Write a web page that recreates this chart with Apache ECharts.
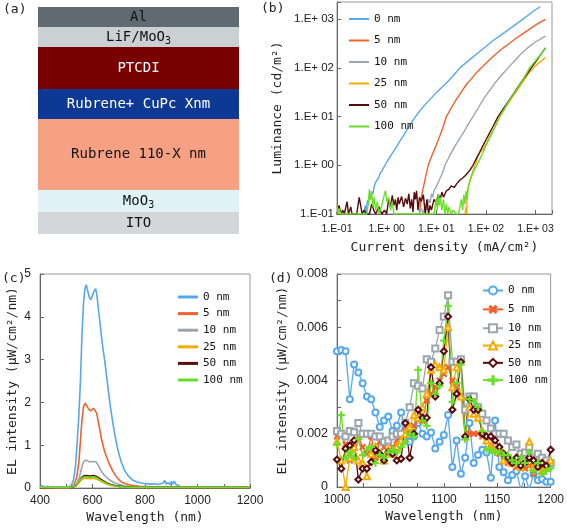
<!DOCTYPE html>
<html><head><meta charset="utf-8">
<script src="https://cdn.jsdelivr.net/npm/echarts@6/dist/echarts.min.js"></script>
<style>html,body{margin:0;padding:0;background:#fff}#c{width:567px;height:529px}</style>
</head><body><div id="c"></div>
<script>
// ---------- (a) device stack ----------
const layerNames = ['Al', 'LiF/MoO3', 'PTCDI', 'Rubrene+ CuPc Xnm', 'Rubrene 110-X nm', 'MoO3', 'ITO'];
const layerThickness = [20, 20, 42, 30, 71, 22, 22];

// ---------- legend names ----------
const thicknessNames = ['0 nm', '5 nm', '10 nm', '25 nm', '50 nm', '100 nm'];

// ---------- (b) luminance vs current density ----------
const lum0 = [[0.35,0.1],[0.37,0.15],[0.39,0.11],[0.41,0.19],[0.43,0.15],[0.45,0.24],[0.47,0.2],[0.5,0.29],[0.53,0.26],[0.56,0.36],[0.6,0.45],[0.63,0.41],[0.66,0.52],[0.7,0.58],[0.74,0.68],[0.78,0.63],[0.82,0.8],[0.86,0.76],[0.9,0.95],[0.95,1.05],[1.0,1.12],[1.1,1.35],[1.25,1.65],[1.5,2.2],[1.8,3.0],[2.2,4.1],[2.7,5.8],[3.2,7.6],[3.7,9.5],[4.5,12.5],[5.5,16],[7,21],[8.5,26],[10,31],[13,40],[16,49],[20,62],[25,80],[30,100],[40,128],[50,155],[70,205],[100,275],[140,365],[200,470],[300,630],[400,780],[560,1000],[800,1320],[1000,1560],[1250,1800]];
const lum5 = [[4.6,0.1],[4.8,0.16],[5.0,0.22],[5.3,0.3],[5.7,0.42],[6.2,0.62],[6.9,1.0],[8,1.5],[9,2.0],[10,2.6],[12,4.2],[14,6.5],[16,10],[20,15],[25,22],[30,29],[40,45],[50,58],[65,80],[81,100],[100,125],[130,160],[170,205],[220,255],[300,320],[400,400],[550,500],[700,590],[900,700],[1200,850],[1600,990]];
const lum10 = [[4.5,0.1],[5,0.13],[5.5,0.1],[6,0.16],[6.5,0.12],[7,0.2],[7.5,0.17],[8,0.26],[8.5,0.22],[9,0.3],[9.5,0.28],[10,0.36],[11,0.45],[12,0.55],[13,0.65],[14,0.8],[15,1.0],[17,1.3],[20,1.8],[24,2.5],[30,3.6],[38,5.3],[46,7.5],[55,10],[70,15],[90,23],[120,35],[160,52],[210,72],[280,100],[380,140],[500,190],[700,260],[1000,340],[1300,400],[1600,450]];
const lum25 = [[38,0.1],[40,0.14],[41,0.1],[42,0.22],[43,0.3],[45,0.38],[48,0.5],[52,0.65],[57,0.85],[62,1.05],[68,1.5],[75,1.8],[82,1.9],[90,2.2],[100,2.7],[120,3.9],[150,6],[190,9.8],[250,15.5],[330,24],[430,35],[560,52],[760,82],[1000,110],[1300,138],[1590,162]];
const lum50 = [[0.1,0.1],[0.11,0.15],[0.12,0.1],[0.13,0.12],[0.14,0.1],[0.16,0.18],[0.17,0.1],[0.19,0.14],[0.2,0.1],[0.25,0.1],[0.28,0.22],[0.3,0.15],[0.32,0.1],[0.35,0.12],[0.4,0.1],[0.45,0.1],[0.5,0.16],[0.55,0.12],[0.6,0.1],[0.7,0.14],[0.8,0.1],[0.9,0.12],[1.0,0.1],[1.1,0.2],[1.2,0.14],[1.3,0.24],[1.4,0.15],[1.5,0.2],[1.6,0.12],[1.7,0.22],[1.8,0.16],[2.0,0.23],[2.2,0.14],[2.4,0.21],[2.6,0.16],[2.8,0.26],[3.0,0.13],[3.2,0.2],[3.4,0.11],[3.6,0.28],[3.8,0.2],[4.0,0.3],[4.3,0.12],[4.6,0.22],[5.0,0.18],[5.5,0.25],[6,0.1],[6.5,0.2],[7,0.1],[7.5,0.15],[8,0.12],[9,0.2],[10,0.17],[11,0.25],[12,0.2],[13,0.28],[14,0.22],[16,0.3],[18,0.32],[20,0.38],[23,0.35],[26,0.42],[30,0.5],[35,0.56],[40,0.64],[47,0.78],[55,1.0],[65,1.4],[75,1.85],[87,2.5],[100,3.3],[120,4.7],[145,6.8],[176,10],[220,14],[280,20],[350,28],[450,41],[580,60],[700,79],[820,100],[1000,131],[1300,193],[1590,257]];
const lum100 = [[0.1,0.15],[0.105,0.1],[0.11,0.13],[0.12,0.1],[0.2,0.1],[0.3,0.1],[0.4,0.1],[0.43,0.18],[0.45,0.32],[0.48,0.2],[0.5,0.28],[0.53,0.14],[0.56,0.22],[0.6,0.12],[0.65,0.18],[0.7,0.1],[0.8,0.15],[0.9,0.25],[0.95,0.3],[1.0,0.18],[1.1,0.22],[1.2,0.12],[1.3,0.18],[1.4,0.1],[2,0.1],[5,0.1],[9,0.1],[10,0.2],[10.5,0.12],[11,0.25],[11.5,0.15],[12,0.22],[13,0.12],[14,0.2],[15,0.1],[16,0.16],[17,0.1],[18,0.14],[20,0.1],[22,0.12],[25,0.1],[28,0.1],[30,0.14],[32,0.2],[34,0.12],[36,0.25],[38,0.16],[40,0.3],[42,0.2],[44,0.35],[47,0.45],[50,0.55],[55,0.7],[60,0.85],[66,1.0],[75,1.32],[85,1.73],[100,2.5],[120,3.7],[150,5.9],[190,10],[250,16],[330,25],[430,37],[560,57],[760,100],[1000,140],[1300,195],[1590,257]];

// ---------- (c) EL spectra 400-1200 nm ----------
const el0 = [[400,0.03],[410,0.05],[420,0.02],[430,0.04],[440,0.02],[450,0.03],[460,0.01],[470,0.03],[480,0.02],[490,0.02],[500,0.02],[510,0.03],[520,0.07],[528,0.2],[535,0.5],[542,1.1],[548,1.7],[554,2.5],[560,3.6],[566,4.35],[571,4.65],[576,4.75],[582,4.6],[588,4.45],[594,4.4],[600,4.5],[606,4.6],[612,4.66],[617,4.5],[622,4.2],[628,3.9],[634,3.55],[640,3.25],[646,3.0],[653,2.65],[660,2.3],[668,1.9],[678,1.5],[688,1.15],[697,0.88],[710,0.6],[723,0.4],[738,0.27],[754,0.18],[770,0.14],[790,0.11],[805,0.1],[820,0.09],[835,0.1],[850,0.08],[860,0.1],[870,0.12],[875,0.18],[880,0.09],[888,0.13],[895,0.08],[900,0.15],[906,0.1],[912,0.16],[918,0.08],[925,0.1],[932,0.04],[936,0.02]];
const el5 = [[400,0.01],[500,0.01],[520,0.02],[530,0.08],[540,0.25],[548,0.6],[554,1.1],[560,1.6],[566,1.9],[572,1.98],[578,1.92],[585,1.85],[592,1.8],[598,1.83],[604,1.86],[610,1.84],[616,1.75],[622,1.55],[628,1.35],[634,1.15],[640,1.0],[646,0.86],[655,0.7],[665,0.55],[677,0.4],[690,0.27],[703,0.18],[716,0.12],[735,0.08],[754,0.06],[780,0.04],[820,0.03],[900,0.03],[1000,0.02],[1200,0.02]];
const el10 = [[400,0.01],[510,0.01],[525,0.03],[540,0.1],[550,0.25],[558,0.45],[565,0.6],[572,0.65],[580,0.64],[588,0.61],[595,0.6],[602,0.62],[608,0.63],[614,0.61],[620,0.55],[627,0.47],[635,0.38],[645,0.3],[655,0.24],[665,0.19],[678,0.14],[690,0.11],[703,0.08],[720,0.05],[750,0.03],[800,0.02],[1200,0.02]];
const el25 = [[400,0.0],[510,0.0],[525,0.02],[538,0.06],[548,0.13],[558,0.19],[566,0.22],[575,0.23],[590,0.22],[605,0.23],[615,0.21],[625,0.18],[640,0.13],[655,0.09],[670,0.06],[690,0.04],[720,0.02],[760,0.01],[1200,0.01]];
const el50 = [[400,0.0],[520,0.01],[535,0.05],[548,0.15],[558,0.24],[566,0.28],[575,0.29],[590,0.28],[605,0.29],[615,0.27],[625,0.23],[640,0.17],[655,0.12],[670,0.08],[690,0.05],[720,0.03],[760,0.01],[800,0.01],[1200,0.01]];
const el100 = [[400,0.01],[510,0.01],[525,0.03],[538,0.08],[548,0.16],[558,0.22],[566,0.25],[575,0.26],[590,0.25],[605,0.26],[615,0.24],[625,0.2],[640,0.15],[655,0.1],[670,0.07],[690,0.04],[720,0.02],[760,0.01],[1200,0.01]];

// ---------- (d) EL spectra 1000-1200 nm ----------
const nirWavelength = [1000,1004,1008,1012,1016,1020,1024,1028,1032,1036,1040,1044,1048,1052,1056,1060,1064,1068,1072,1076,1080,1084,1088,1092,1096,1100,1104,1108,1112,1116,1120,1124,1128,1132,1136,1140,1144,1148,1152,1156,1160,1164,1168,1172,1176,1180,1184,1188,1192,1196,1200];
const nir0 = [0.0051,0.00515,0.0051,0.0033,0.0046,0.0043,0.0039,0.0034,0.0033,0.0028,0.00225,0.0025,0.00265,0.0021,0.0023,0.0028,0.00215,0.0017,0.0019,0.0024,0.002,0.0019,0.00205,0.00145,0.0017,0.00195,0.0027,0.00075,0.00175,0.0005,0.0011,0.0024,0.0009,0.0012,0.0014,0.0013,0.00035,0.0025,0.00075,0.00055,0.00025,0.00045,0.0006,-0.0001,0.0004,-0.0001,0.0005,0.00025,0.0003,0.0002,0.0002];
const nir5 = [0.0019,0.002,0.0016,0.001,0.0015,0.0019,0.0015,0.00125,0.0019,0.0011,0.0017,0.0015,0.00125,0.0015,0.00175,0.002,0.00225,0.0021,0.0023,0.0025,0.0025,0.00325,0.0035,0.00375,0.004,0.00425,0.0045,0.004,0.00375,0.0034,0.0029,0.002,0.002,0.002,0.0019,0.00175,0.0016,0.0014,0.00125,0.001,0.0009,0.00095,0.00075,0.0009,0.0007,0.0008,0.0005,0.00075,0.0006,0.001,0.0009];
const nir10 = [0.0021,0.002,0.0019,0.0021,0.00206,0.0024,0.002,0.002,0.002,0.0019,0.0019,0.0017,0.00175,0.0019,0.002,0.002,0.0024,0.003,0.0039,0.0038,0.0037,0.0048,0.0047,0.0052,0.0059,0.0064,0.0072,0.0047,0.0047,0.0048,0.0029,0.0034,0.0034,0.003,0.00275,0.0025,0.0022,0.002,0.002,0.002,0.00175,0.0015,0.0016,0.00125,0.0013,0.0015,0.0011,0.00125,0.0011,0.001,0.0009];
const nir25 = [0.0017,0.001,0.0,0.0011,0.0015,0.001,0.0009,0.0004,0.00125,0.0015,0.00125,0.001,0.0014,0.00125,0.0015,0.00175,0.002,0.00225,0.0027,0.0026,0.003,0.0035,0.0044,0.0046,0.0045,0.0044,0.006,0.00375,0.0045,0.0034,0.0019,0.003,0.00275,0.0026,0.0021,0.00175,0.0015,0.0014,0.0015,0.001,0.0011,0.0009,0.0011,0.00075,0.0009,0.0017,0.00075,0.0009,0.0006,0.00075,0.001];
const nir50 = [0.00103,0.00069,0.00144,0.00156,0.00175,0.00028,0.00069,0.00069,0.00094,0.00138,0.00125,0.001,0.00131,0.00125,0.001,0.00106,0.0024,0.0011,0.002,0.0029,0.0026,0.0026,0.0045,0.0034,0.0039,0.0051,0.0064,0.0029,0.0035,0.0047,0.0019,0.0033,0.0029,0.0029,0.002,0.0019,0.0019,0.00175,0.0015,0.00125,0.0011,0.0009,0.0011,0.0008,0.0009,0.0011,0.001,0.00075,0.0009,0.0008,0.0014];
const nir100 = [0.0016,0.0027,0.0011,0.0013,0.0011,0.0018,0.0012,0.0014,0.0015,0.0009,0.0012,0.0011,0.0013,0.0014,0.0013,0.0015,0.0017,0.002,0.0019,0.0044,0.0025,0.0023,0.0039,0.0035,0.0038,0.0055,0.0068,0.0032,0.0039,0.0046,0.0018,0.0033,0.0032,0.003,0.0021,0.0014,0.0014,0.0013,0.0013,0.0012,0.0012,0.001,0.0009,0.0011,0.0009,0.0013,0.0006,0.0009,0.0005,0.0006,0.0007];

// ---------- styles ----------
const MONO = 'DejaVu Sans Mono';
const SANS = 'Liberation Sans';
const seriesColors = ['#55a8f0', '#f2602c', '#9aa6ae', '#f5ac00', '#5a0a0a', '#6ade28'];
const layerColors = ['#5f6b70', '#cbd0d3', '#780000', '#0d3893', '#f7a184', '#dff3f6', '#d3d7d9'];
const layerTextColors = ['#111', '#111', '#fff', '#fff', '#111', '#111', '#111'];
const plusPath = 'path://M4.2,0H5.8V4.2H10V5.8H5.8V10H4.2V5.8H0V4.2H4.2Z';
const nirSymbols = ['emptyCircle', plusPath, 'emptyRect', 'emptyTriangle', 'emptyDiamond', plusPath];
const nirSymbolRotate = [0, 45, 0, 0, 0, 0];
const nirSymbolSize = [6, 7, 6, 6, 6, 7];

function sciLabel(v) {
  const e = Math.round(Math.log10(v));
  if (Math.abs(v / Math.pow(10, e) - 1) > 1e-6) return '';
  const a = Math.abs(e);
  return '1.E' + (e < 0 ? '-' : '+ ') + (a < 10 ? '0' : '') + a;
}
function subFmt(name) { return name.replace('O3', 'O{s|3}'); }

const axisCommon = {
  axisLine: { show: true, lineStyle: { color: '#666', width: 1 } },
  axisTick: { show: true, inside: true, length: 4, lineStyle: { color: '#666' } },
  splitLine: { show: false },
  axisLabel: { color: '#222', fontFamily: SANS, fontSize: 12 },
  nameTextStyle: { color: '#222', fontFamily: MONO, fontSize: 13 }
};
function ax(extra) {
  const o = JSON.parse(JSON.stringify(axisCommon));
  for (const k in extra) {
    if (typeof extra[k] === 'object' && extra[k] !== null && !Array.isArray(extra[k]) && o[k]) Object.assign(o[k], extra[k]);
    else o[k] = extra[k];
  }
  return o;
}

// ---------- series ----------
const series = [];
let cum = 0;
const layerTops = [];
layerNames.forEach((n, i) => {
  layerTops.push(cum); cum += layerThickness[i];
  series.push({
    type: 'bar', name: n, xAxisIndex: 0, yAxisIndex: 0, stack: 'device', barWidth: '100%',
    data: [layerThickness[i]], itemStyle: { color: layerColors[i] }, silent: true,
    label: {
      show: true, position: 'inside', formatter: subFmt(n),
      color: layerTextColors[i], fontFamily: MONO, fontSize: 14,
      rich: { s: { fontFamily: MONO, fontSize: 10, color: layerTextColors[i], padding: [9, 0, 0, 0] } }
    }
  });
});
const arrowX = 13;
series.push({
  type: 'lines', coordinateSystem: 'cartesian2d', xAxisIndex: 1, yAxisIndex: 0,
  symbol: ['arrow', 'arrow'], symbolSize: 6, silent: true,
  lineStyle: { color: '#fff', width: 1.2, opacity: 1 },
  data: [{ coords: [[arrowX, layerTops[3] + 3], [arrowX, layerTops[3] + layerThickness[3] - 2]] }]
});
series.push({
  type: 'lines', coordinateSystem: 'cartesian2d', xAxisIndex: 1, yAxisIndex: 0,
  symbol: ['arrow', 'arrow'], symbolSize: 6, silent: true,
  lineStyle: { color: '#111', width: 1.2, opacity: 1 },
  data: [{ coords: [[arrowX, layerTops[4] + 1], [arrowX, layerTops[4] + layerThickness[4] - 1]] }]
});

const lumSets = [lum0, lum5, lum10, lum25, lum50, lum100];
lumSets.forEach((d, i) => series.push({
  type: 'line', name: thicknessNames[i], xAxisIndex: 2, yAxisIndex: 1, data: d,
  symbol: 'none', showSymbol: false, lineStyle: { width: 1.4, color: seriesColors[i] }, itemStyle: { color: seriesColors[i] }
}));
const elSets = [el0, el5, el10, el25, el50, el100];
elSets.forEach((d, i) => series.push({
  type: 'line', name: thicknessNames[i], xAxisIndex: 3, yAxisIndex: 2, data: d,
  symbol: 'none', showSymbol: false, lineStyle: { width: 1.6, color: seriesColors[i] }, itemStyle: { color: seriesColors[i] }
}));
const nirSets = [nir0, nir5, nir10, nir25, nir50, nir100];
nirSets.forEach((d, i) => series.push({
  type: 'line', name: 'd' + thicknessNames[i], xAxisIndex: 4, yAxisIndex: 3,
  data: d.map((v, k) => [nirWavelength[k], v]),
  symbol: nirSymbols[i], symbolRotate: nirSymbolRotate[i], symbolSize: nirSymbolSize[i], showSymbol: true,
  lineStyle: { width: 1.3, color: seriesColors[i] },
  itemStyle: { color: seriesColors[i], borderColor: seriesColors[i], borderWidth: 1 }
}));

const lineIcon = 'rect';
const option = {
  animation: false,
  backgroundColor: '#fff',
  textStyle: { fontFamily: MONO },
  grid: [
    { left: 38, top: 7, width: 201, height: 227 },
    { left: 337, top: 2, width: 215, height: 212, show: true, borderColor: '#999', borderWidth: 1 },
    { left: 40, top: 274, width: 210, height: 214, show: true, borderColor: '#999', borderWidth: 1 },
    { left: 337, top: 274, width: 216, height: 213, show: true, borderColor: '#999', borderWidth: 1 }
  ],
  xAxis: [
    { type: 'category', gridIndex: 0, data: ['stack'], show: false },
    { type: 'value', gridIndex: 0, min: 0, max: 201, show: false },
    ax({ type: 'log', gridIndex: 1, min: 0.1, max: 2150, logBase: 10,
      axisLabel: { formatter: sciLabel, margin: 10, fontSize: 10.5 },
      name: 'Current density (mA/cm²)', nameLocation: 'middle', nameGap: 27 }),
    ax({ type: 'value', gridIndex: 2, min: 400, max: 1200, interval: 100,
      axisLabel: { formatter: v => (v % 200 === 0 ? String(v) : ''), margin: 7 },
      name: 'Wavelength (nm)', nameLocation: 'middle', nameGap: 23 }),
    ax({ type: 'value', gridIndex: 3, min: 1000, max: 1200, interval: 25,
      axisLabel: { formatter: v => (v % 50 === 0 ? String(v) : ''), margin: 7 },
      name: 'Wavelength (nm)', nameLocation: 'middle', nameGap: 23 })
  ],
  yAxis: [
    { type: 'value', gridIndex: 0, min: 0, max: 227, inverse: true, show: false },
    ax({ type: 'log', gridIndex: 1, min: 0.1, max: 2250, logBase: 10,
      axisLabel: { formatter: sciLabel, margin: 3, fontSize: 11.5 },
      name: 'Luminance (cd/m²)', nameLocation: 'middle', nameGap: 53 }),
    ax({ type: 'value', gridIndex: 2, min: 0, max: 5, interval: 1,
      axisLabel: { margin: 9 },
      name: 'EL intensity (μW/cm²/nm)', nameLocation: 'middle', nameGap: 21 }),
    ax({ type: 'value', gridIndex: 3, min: 0, max: 0.008, interval: 0.001,
      axisLabel: { margin: 9, fontSize: 12.5, formatter: v => (v === 0 ? '0' : (Math.round(v * 1000) % 2 === 0 ? v.toFixed(3) : '')) },
      name: 'EL intensity (μW/cm²/nm)', nameLocation: 'middle', nameGap: 48 })
  ],
  legend: [
    { data: thicknessNames, orient: 'vertical', left: 344, top: 8, icon: lineIcon, itemWidth: 20, itemHeight: 2, itemGap: 9.5,
      textStyle: { fontFamily: MONO, fontSize: 11, color: '#111', lineHeight: 12 } },
    { data: thicknessNames, orient: 'vertical', left: 173, top: 286, icon: lineIcon, itemWidth: 20, itemHeight: 3, itemGap: 4.6,
      textStyle: { fontFamily: MONO, fontSize: 11, color: '#111', lineHeight: 12 } },
    { data: thicknessNames.map(n => 'd' + n), formatter: n => n.slice(1), orient: 'vertical', left: 477, top: 280,
      itemWidth: 20, itemHeight: 10, itemGap: 6.3, textStyle: { fontFamily: MONO, fontSize: 11, color: '#111' } }
  ],
  graphic: [
    { type: 'text', left: 3, top: 3, style: { text: '(a)', font: '13px ' + MONO, fill: '#222' } },
    { type: 'text', left: 261, top: 2, style: { text: '(b)', font: '13px ' + MONO, fill: '#222' } },
    { type: 'text', left: 2, top: 272, style: { text: '(c)', font: '13px ' + MONO, fill: '#222' } },
    { type: 'text', left: 269, top: 272, style: { text: '(d)', font: '13px ' + MONO, fill: '#222' } }
  ],
  series: series
};
const chart = echarts.init(document.getElementById('c'), null, { renderer: 'canvas' });
chart.setOption(option);
</script>
</body></html>
